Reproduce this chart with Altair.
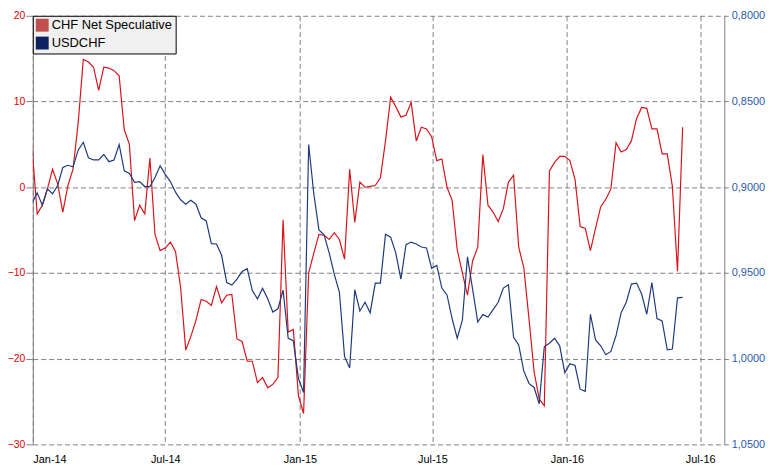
import altair as alt
import pandas as pd

# Weekly observations (Tuesdays), 2013-12-31 .. 2016-06-07
start_date = "2013-12-31"
n_weeks = 128

chf_net_spec = [
    4.6, -3.1, -2.1, -0.2, 2.1, 0.4, -2.9, 0.2, 2.1, 7.5,
    14.9, 14.6, 14.0, 11.3, 14.0, 13.9, 13.6, 13.0, 6.7, 5.0,
    -3.9, -2.1, -3.1, 3.4, -5.5, -7.4, -7.1, -6.4, -7.5, -11.7,
    -19.0, -17.4, -15.5, -13.1, -13.3, -13.8, -11.6, -13.5, -12.6, -12.5,
    -17.7, -18.0, -20.3, -20.3, -22.8, -22.2, -23.4, -23.0, -22.2, -3.8,
    -16.9, -16.6, -24.3, -26.4, -10.0, -7.7, -5.5, -5.6, -6.1, -5.3,
    -6.1, -8.4, 2.1, -4.1, 0.6, 0.0, 0.1, 0.2, 1.1, 5.4,
    10.5, 9.4, 8.2, 8.4, 9.9, 5.4, 7.0, 6.8, 5.9, 3.1,
    3.3, 0.0, -1.5, -7.3, -10.0, -12.6, -8.6, -7.0, 3.8, -2.1,
    -2.9, -4.0, -2.5, 0.6, 1.4, -7.0, -9.4, -15.3, -21.5, -24.7,
    -25.5, 1.9, 2.9, 3.6, 3.6, 3.1, 0.9, -4.6, -4.8, -7.4,
    -4.8, -2.3, -1.4, -0.2, 5.2, 4.1, 4.4, 5.4, 8.0, 9.3,
    9.2, 6.8, 6.8, 3.9, 3.9, 0.1, -9.8, 7.0,
]

usdchf = [
    0.9092, 0.9033, 0.9105, 0.9010, 0.9038, 0.8990, 0.8885, 0.8872, 0.8881, 0.8784,
    0.8738, 0.8828, 0.8841, 0.8841, 0.8809, 0.8851, 0.8841, 0.8751, 0.8904, 0.8920,
    0.8971, 0.8967, 0.8996, 0.8996, 0.8943, 0.8875, 0.8925, 0.8967, 0.9029, 0.9073,
    0.9099, 0.9076, 0.9099, 0.9178, 0.9197, 0.9329, 0.9331, 0.9397, 0.9556, 0.9571,
    0.9536, 0.9492, 0.9475, 0.9603, 0.9651, 0.9590, 0.9651, 0.9728, 0.9709, 0.9600,
    0.9881, 0.9895, 1.0116, 1.0197, 0.8751, 0.9038, 0.9249, 0.9278, 0.9383, 0.9508,
    0.9613, 0.9987, 1.0054, 0.9598, 0.9722, 0.9671, 0.9732, 0.9559, 0.9559, 0.9274,
    0.9291, 0.9383, 0.9536, 0.9335, 0.9320, 0.9331, 0.9349, 0.9354, 0.9473, 0.9456,
    0.9588, 0.9628, 0.9766, 0.9881, 0.9776, 0.9406, 0.9594, 0.9786, 0.9743, 0.9757,
    0.9714, 0.9671, 0.9588, 0.9569, 0.9875, 0.9920, 1.0073, 1.0144, 1.0168, 1.0264,
    0.9929, 0.9910, 0.9881, 0.9925, 1.0082, 1.0030, 1.0040, 1.0178, 1.0191, 0.9741,
    0.9891, 0.9925, 0.9977, 0.9958, 0.9866, 0.9732, 0.9671, 0.9565, 0.9559, 0.9623,
    0.9741, 0.9556, 0.9766, 0.9780, 0.9948, 0.9944, 0.9645, 0.9642,
]

series_names = ["CHF Net Speculative", "USDCHF"]
legend_colors = ["#c0504d", "#0f2060"]
left_ticks = [-30, -20, -10, 0, 10, 20]
right_ticks = [0.80, 0.85, 0.90, 0.95, 1.00, 1.05]

dates = pd.date_range(start_date, periods=n_weeks, freq="7D").strftime("%Y-%m-%d")
df = pd.DataFrame({"date": dates, "chf": chf_net_spec, "usd": usdchf})
legend_df = pd.DataFrame({"date": ["2015-01-01"] * 2, "series": series_names})

FONT = "Liberation Sans"
GRID = "#808080"

x_enc = alt.X(
    "date:T",
    scale=alt.Scale(domain=[alt.DateTime(year=2014, month=1, date=1),
                            alt.DateTime(year=2016, month=8, date=3)]),
    axis=alt.Axis(
        values=[alt.DateTime(year=2014, month=1, date=1),
                alt.DateTime(year=2014, month=7, date=1),
                alt.DateTime(year=2015, month=1, date=1),
                alt.DateTime(year=2015, month=7, date=1),
                alt.DateTime(year=2016, month=1, date=1),
                alt.DateTime(year=2016, month=7, date=1)],
        format="%b-%y", title=None, grid=True, gridColor=GRID, gridDash=[5, 3],
        gridWidth=1, domain=False, ticks=False, labelPadding=9,
        labelFont=FONT, labelFontSize=11, labelColor="#000000",
    ),
)

red_line = alt.Chart(df).mark_line(color="#d7141a", strokeWidth=1.2, clip=True).encode(
    x=x_enc,
    y=alt.Y(
        "chf:Q",
        scale=alt.Scale(domain=[-30, 20], nice=False, zero=False),
        axis=alt.Axis(
            orient="left", values=left_ticks, title=None, grid=True,
            gridColor=GRID, gridDash=[5, 3], domainColor=GRID, tickColor=GRID,
            tickSize=7, labelPadding=1, labelFont=FONT, labelFontSize=10.5,
            labelColor="#e00000",
        ),
    ),
)

blue_line = alt.Chart(df).mark_line(color="#1f3a7c", strokeWidth=1.2, clip=True).encode(
    x=x_enc,
    y=alt.Y(
        "usd:Q",
        scale=alt.Scale(domain=[0.80, 1.05], reverse=True, nice=False, zero=False),
        axis=alt.Axis(
            orient="right", values=right_ticks, title=None, grid=False,
            domainColor=GRID, tickColor=GRID, tickSize=4, labelPadding=3,
            labelFont=FONT, labelFontSize=11, labelColor="#2a5ab0",
            labelExpr="replace(format(datum.value, '.4f'), '.', ',')",
        ),
    ),
)

legend_layer = alt.Chart(legend_df).mark_square(filled=True, opacity=1, clip=True).encode(
    x=x_enc,
    y=alt.value(-500),
    color=alt.Color(
        "series:N",
        scale=alt.Scale(domain=series_names, range=legend_colors),
        sort=series_names,
        legend=alt.Legend(
            title=None, orient="top-left", offset=0, fillColor="#f0f0f0",
            strokeColor="#000000", padding=3, symbolType="square",
            symbolSize=169, symbolStrokeWidth=0, symbolOpacity=1,
            labelFont=FONT, labelFontSize=13, labelColor="#000000",
            labelOffset=3, rowPadding=4,
        ),
    ),
)

chart = (
    alt.layer(red_line, blue_line, legend_layer)
    .resolve_scale(y="independent")
    .properties(
        width=697, height=432,
        autosize=alt.AutoSizeParams(type="none"),
        padding={"left": 25, "top": 6, "right": 42, "bottom": 26},
        background="white",
    )
    .configure_view(strokeWidth=0)
)

chart.save("out.html", embed_options={"renderer": "svg", "actions": False})
